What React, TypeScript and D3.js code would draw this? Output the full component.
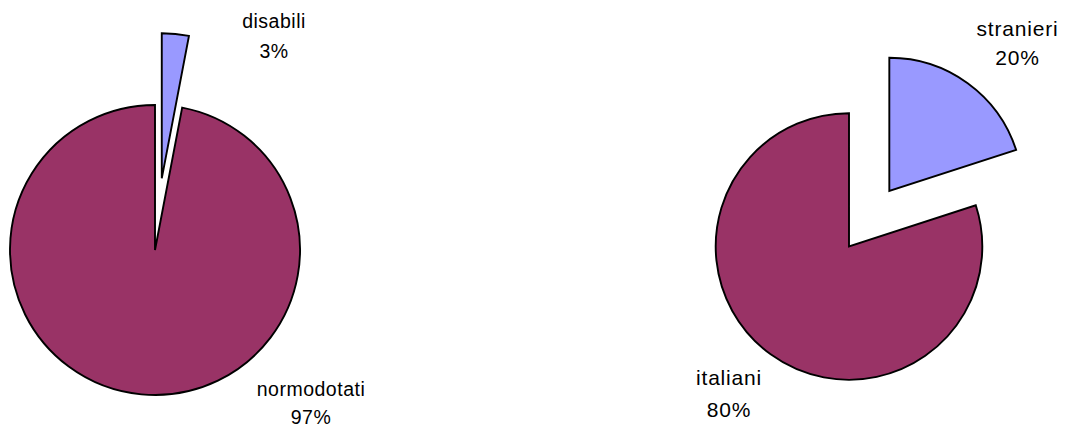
import React from "react";
import * as d3 from "d3";

const leftCategories = ["disabili", "normodotati"];
const leftValues = [3, 97];
const rightCategories = ["stranieri", "italiani"];
const rightValues = [20, 80];
const colors = ["#9999FF", "#993366"];

type PieSpec = {
  cats: string[];
  vals: number[];
  cx: number;
  cy: number;
  r: number;
  explode: number;
  labels: { x: number; y1: number; y2: number }[];
  fontSize: number;
  letterSpacing: number;
};

const specs: PieSpec[] = [
  {
    cats: leftCategories,
    vals: leftValues,
    cx: 155,
    cy: 250,
    r: 145,
    explode: 72,
    labels: [
      { x: 274, y1: 28, y2: 58 },
      { x: 311, y1: 396, y2: 424 },
    ],
    fontSize: 19.5,
    letterSpacing: 0.5,
  },
  {
    cats: rightCategories,
    vals: rightValues,
    cx: 849,
    cy: 246.5,
    r: 133.3,
    explode: 68.6,
    labels: [
      { x: 1017.5, y1: 36, y2: 65 },
      { x: 729, y1: 385, y2: 417 },
    ],
    fontSize: 21,
    letterSpacing: 0.8,
  },
];

function Pie({ s }: { s: PieSpec }) {
  const pie = d3.pie<number>().sort(null).value((d) => d);
  const arcs = pie(s.vals);
  const arc = d3.arc<d3.PieArcDatum<number>>().innerRadius(0).outerRadius(s.r);
  const total = d3.sum(s.vals);
  return (
    <g transform={`translate(${s.cx},${s.cy})`}>
      {arcs.map((a, i) => {
        const mid = (a.startAngle + a.endAngle) / 2;
        const off = i === 0 ? s.explode : 0;
        const dx = Math.sin(mid) * off;
        const dy = -Math.cos(mid) * off;
        return (
          <path
            key={i}
            d={arc(a) || ""}
            transform={`translate(${dx},${dy})`}
            fill={colors[i]}
            stroke="#000"
            strokeWidth={1.9}
            strokeLinejoin="miter"
          />
        );
      })}
      {s.cats.map((c, i) => {
        const l = s.labels[i];
        const pct = Math.round((s.vals[i] / total) * 100) + "%";
        return (
          <g key={c}>
            <text
              x={l.x - s.cx}
              y={l.y1 - s.cy}
              textAnchor="middle"
              fontFamily="Arial, 'Liberation Sans', sans-serif"
              fontSize={s.fontSize}
              letterSpacing={s.letterSpacing}
              fill="#000"
            >
              {c}
            </text>
            <text
              x={l.x - s.cx}
              y={l.y2 - s.cy}
              textAnchor="middle"
              fontFamily="Arial, 'Liberation Sans', sans-serif"
              fontSize={s.fontSize}
              letterSpacing={s.letterSpacing}
              fill="#000"
            >
              {pct}
            </text>
          </g>
        );
      })}
    </g>
  );
}

export default function App() {
  return (
    <svg
      width={1066}
      height={428}
      style={{ position: "absolute", left: 0, top: 0, background: "#fff" }}
    >
      <rect width={1066} height={428} fill="#fff" />
      {specs.map((s, i) => (
        <Pie key={i} s={s} />
      ))}
    </svg>
  );
}
